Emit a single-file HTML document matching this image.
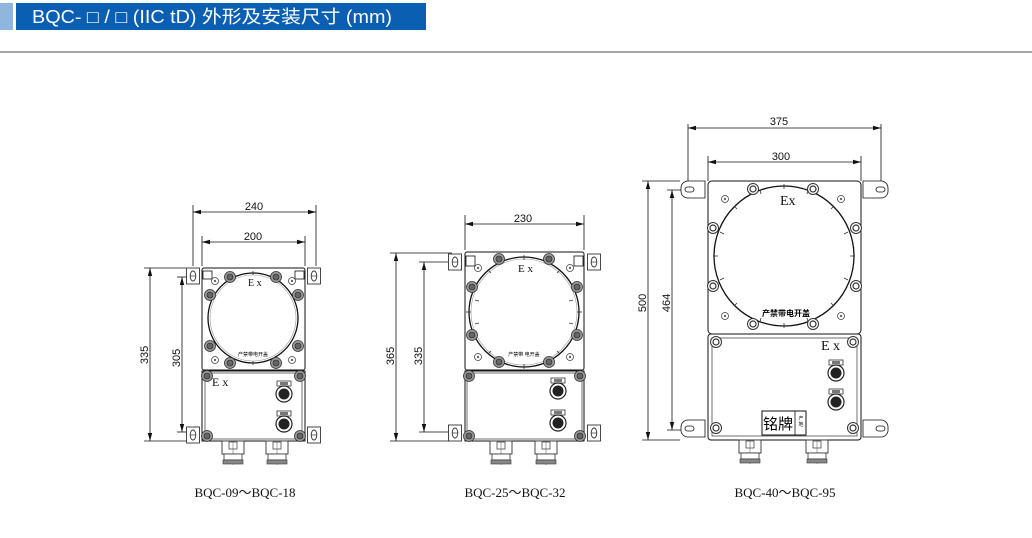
<!DOCTYPE html>
<html><head><meta charset="utf-8"><style>
html,body{margin:0;padding:0;background:#fff;width:1032px;height:538px;overflow:hidden}
svg{display:block}
.t{font-family:"Liberation Sans",sans-serif;font-size:11px;fill:#111}
.s{font-family:"Liberation Serif",serif;fill:#111}
.c{font-family:"Liberation Sans","Noto Sans CJK SC",sans-serif}
</style></head><body>
<svg width="1032" height="538" viewBox="0 0 1032 538" xmlns="http://www.w3.org/2000/svg">
<defs>
<marker id="a" markerWidth="8" markerHeight="6" refX="8" refY="3" orient="auto-start-reverse" markerUnits="userSpaceOnUse"><path d="M0,0.8 L8,3 L0,5.2z" fill="#111"/></marker>
<g id="bolt"><circle r="5.5" fill="#999" stroke="#333" stroke-width="0.8"/><circle r="3" fill="#666" stroke="#222" stroke-width="0.6"/></g>
<g id="bolt2"><circle r="5.5" fill="#fff" stroke="#333" stroke-width="1"/><circle r="3" fill="#fff" stroke="#333" stroke-width="1.2"/></g>
<g id="scr"><circle r="3.5" fill="#fff" stroke="#444" stroke-width="0.8"/><circle r="1.2" fill="#666"/></g>
<g id="lug"><rect x="-6.5" y="-8" width="13" height="16" fill="#fff" stroke="#333" stroke-width="0.9"/><ellipse rx="2.8" ry="5" fill="none" stroke="#333" stroke-width="0.9"/><line x1="-2.8" y1="0" x2="2.8" y2="0" stroke="#333" stroke-width="0.7"/></g>
<g id="btn"><rect x="-7" y="-13" width="14" height="5" fill="#fff" stroke="#333" stroke-width="0.8"/><rect x="-4" y="-12" width="8" height="3" fill="#777"/><circle r="8" fill="#fff" stroke="#222" stroke-width="1.2"/><circle r="5.5" fill="#222"/></g>
<g id="gland"><rect x="-11" y="0" width="22" height="13" fill="#fff" stroke="#333" stroke-width="0.9"/><rect x="-4" y="1" width="8" height="7" fill="#fff" stroke="#333" stroke-width="0.7"/><line x1="0" y1="0" x2="0" y2="24" stroke="#555" stroke-width="0.5"/><rect x="-9" y="13" width="18" height="6" fill="#fff" stroke="#333" stroke-width="0.8"/><rect x="-10" y="19" width="20" height="4" fill="#888" stroke="#333" stroke-width="0.6"/></g>
</defs>

<rect x="0" y="3" width="13" height="27" fill="#8fb6df"/>
<rect x="16" y="3" width="410" height="27" fill="#0b5fb3"/>
<text x="32" y="23" class="c" font-size="18" fill="#fff" textLength="360" lengthAdjust="spacingAndGlyphs">BQC- □ / □ (IIC tD) 外形及安装尺寸 (mm)</text>
<line x1="0" y1="52" x2="1032" y2="52" stroke="#888" stroke-width="1.5"/>

<g stroke="#111" stroke-width="0.8" fill="none">
<line x1="193" y1="205" x2="193" y2="266"/><line x1="316" y1="205" x2="316" y2="266"/>
<line x1="193" y1="212" x2="316" y2="212" marker-start="url(#a)" marker-end="url(#a)"/>
<line x1="202" y1="236" x2="202" y2="266"/><line x1="305" y1="236" x2="305" y2="266"/>
<line x1="202" y1="242" x2="305" y2="242" marker-start="url(#a)" marker-end="url(#a)"/>
<line x1="144" y1="268" x2="186" y2="268"/><line x1="144" y1="441" x2="186" y2="441"/>
<line x1="150" y1="268" x2="150" y2="441" marker-start="url(#a)" marker-end="url(#a)"/>
<line x1="177" y1="277" x2="190" y2="277"/><line x1="177" y1="432" x2="190" y2="432"/>
<line x1="182" y1="277" x2="182" y2="432" marker-start="url(#a)" marker-end="url(#a)"/>
<rect x="202" y="268" width="103" height="102" rx="2" stroke-width="1"/>
<rect x="202" y="371" width="103" height="70" stroke-width="1"/>
<rect x="205" y="373" width="97" height="66" stroke-width="0.6"/>
<circle cx="253" cy="318" r="45" stroke-width="1.3"/>
<circle cx="253" cy="318" r="43" stroke="#999" stroke-width="0.6"/>
<rect x="203" y="271" width="9" height="8"/><rect x="295" y="271" width="9" height="8"/>

<line x1="465" y1="215" x2="465" y2="250"/><line x1="584" y1="215" x2="584" y2="250"/>
<line x1="465" y1="224" x2="584" y2="224" marker-start="url(#a)" marker-end="url(#a)"/>
<line x1="390" y1="253" x2="452" y2="253"/><line x1="390" y1="441" x2="450" y2="441"/>
<line x1="396" y1="253" x2="396" y2="441" marker-start="url(#a)" marker-end="url(#a)"/>
<line x1="419" y1="262" x2="450" y2="262"/><line x1="419" y1="432" x2="450" y2="432"/>
<line x1="424" y1="262" x2="424" y2="432" marker-start="url(#a)" marker-end="url(#a)"/>
<rect x="465" y="252" width="119" height="118" rx="2" stroke-width="1"/>
<rect x="465" y="371" width="119" height="70" stroke-width="1"/>
<rect x="467" y="373" width="115" height="66" stroke-width="0.6"/>
<circle cx="524" cy="312" r="55" stroke-width="1.3"/>
<circle cx="524" cy="312" r="53" stroke="#999" stroke-width="0.6"/>
<rect x="466" y="256" width="9" height="10"/><rect x="574" y="256" width="9" height="10"/>

<line x1="688" y1="124" x2="688" y2="182"/><line x1="881" y1="124" x2="881" y2="182"/>
<line x1="688" y1="128" x2="881" y2="128" marker-start="url(#a)" marker-end="url(#a)"/>
<line x1="708" y1="156" x2="708" y2="181"/><line x1="861" y1="156" x2="861" y2="181"/>
<line x1="708" y1="162" x2="861" y2="162" marker-start="url(#a)" marker-end="url(#a)"/>
<line x1="642" y1="181" x2="680" y2="181"/><line x1="642" y1="440" x2="680" y2="440"/>
<line x1="648" y1="181" x2="648" y2="440" marker-start="url(#a)" marker-end="url(#a)"/>
<line x1="667" y1="190" x2="684" y2="190"/><line x1="667" y1="430" x2="684" y2="430"/>
<line x1="672" y1="190" x2="672" y2="430" marker-start="url(#a)" marker-end="url(#a)"/>
<rect x="708" y="181" width="153" height="153" rx="4" stroke-width="1"/>
<rect x="708" y="334" width="153" height="106" rx="3" stroke-width="1"/>
<rect x="712" y="338" width="145" height="98" stroke-width="0.6"/>
<circle cx="784" cy="256" r="70" stroke-width="1.3"/>
<path d="M705,181 H688 A7,7 0 0 0 681,188 V192 A7,7 0 0 0 688,198 H705 Z" fill="#fff"/>
<rect x="685" y="187" width="9" height="5" rx="2.5"/>
<path d="M863,181 H881 A7,7 0 0 1 888,188 V192 A7,7 0 0 1 881,198 H863 Z" fill="#fff"/>
<rect x="876" y="187" width="9" height="5" rx="2.5"/>
<path d="M705,420 H688 A7,7 0 0 0 681,427 V431 A7,7 0 0 0 688,437 H705 Z" fill="#fff"/>
<rect x="685" y="426" width="9" height="5" rx="2.5"/>
<path d="M863,420 H881 A7,7 0 0 1 888,427 V431 A7,7 0 0 1 881,437 H863 Z" fill="#fff"/>
<rect x="876" y="426" width="9" height="5" rx="2.5"/>
<rect x="762" y="411" width="44" height="24" stroke-width="1"/>
<line x1="795" y1="411" x2="795" y2="435"/>
</g>

<g stroke="#333" stroke-width="0.8">
<line x1="253" y1="271" x2="253" y2="275"/><line x1="253" y1="361" x2="253" y2="365"/>
<line x1="466" y1="312" x2="471" y2="312"/><line x1="577" y1="312" x2="582" y2="312"/>
<line x1="524" y1="255" x2="524" y2="260"/><line x1="524" y1="364" x2="524" y2="369"/>
<line x1="713" y1="256" x2="718" y2="256"/><line x1="850" y1="256" x2="855" y2="256"/>
<line x1="784" y1="184" x2="784" y2="189"/><line x1="784" y1="323" x2="784" y2="328"/>
<line x1="734" y1="206" x2="737" y2="209"/><line x1="834" y1="206" x2="831" y2="209"/>
<line x1="734" y1="306" x2="737" y2="303"/><line x1="834" y1="306" x2="831" y2="303"/>
<line x1="720" y1="232" x2="724" y2="234"/><line x1="848" y1="232" x2="844" y2="234"/>
<line x1="720" y1="280" x2="724" y2="278"/><line x1="848" y1="280" x2="844" y2="278"/>
<line x1="760" y1="190" x2="761" y2="194"/><line x1="808" y1="190" x2="807" y2="194"/>
<line x1="760" y1="322" x2="761" y2="318"/><line x1="808" y1="322" x2="807" y2="318"/>
<line x1="488" y1="270" x2="491" y2="273"/><line x1="560" y1="270" x2="557" y2="273"/>
<line x1="488" y1="354" x2="491" y2="351"/><line x1="560" y1="354" x2="557" y2="351"/>
<line x1="475" y1="300" x2="479" y2="301"/><line x1="573" y1="300" x2="569" y2="301"/>
<line x1="475" y1="324" x2="479" y2="323"/><line x1="573" y1="324" x2="569" y2="323"/>
</g>

<use href="#bolt" x="230" y="277"/><use href="#bolt" x="276" y="277"/>
<use href="#bolt" x="210" y="295"/><use href="#bolt" x="298" y="295"/>
<use href="#bolt" x="210" y="346"/><use href="#bolt" x="298" y="346"/>
<use href="#bolt" x="230" y="363"/><use href="#bolt" x="276" y="363"/>
<use href="#scr" x="215" y="281"/><use href="#scr" x="292" y="281"/>
<use href="#scr" x="215" y="360"/><use href="#scr" x="292" y="360"/>
<use href="#bolt" x="207" y="376"/><use href="#bolt" x="300" y="376"/>
<use href="#bolt" x="207" y="436"/><use href="#bolt" x="300" y="436"/>

<use href="#bolt" x="499" y="259"/><use href="#bolt" x="549" y="259"/>
<use href="#bolt" x="472" y="287"/><use href="#bolt" x="577" y="287"/>
<use href="#bolt" x="472" y="335"/><use href="#bolt" x="577" y="335"/>
<use href="#bolt" x="499" y="362"/><use href="#bolt" x="549" y="362"/>
<use href="#scr" x="478" y="268"/><use href="#scr" x="570" y="268"/>
<use href="#scr" x="478" y="357"/><use href="#scr" x="570" y="357"/>
<use href="#bolt" x="469" y="376"/><use href="#bolt" x="580" y="376"/>
<use href="#bolt" x="469" y="436"/><use href="#bolt" x="580" y="436"/>

<use href="#bolt2" x="753" y="189"/><use href="#bolt2" x="813" y="189"/>
<use href="#bolt2" x="713" y="228"/><use href="#bolt2" x="856" y="228"/>
<use href="#bolt2" x="713" y="286"/><use href="#bolt2" x="856" y="286"/>
<use href="#bolt2" x="753" y="324"/><use href="#bolt2" x="813" y="324"/>
<use href="#scr" x="725" y="199"/><use href="#scr" x="841" y="199"/>
<use href="#scr" x="725" y="316"/><use href="#scr" x="841" y="316"/>
<use href="#bolt2" x="716" y="342"/><use href="#bolt2" x="853" y="342"/>
<use href="#bolt2" x="716" y="428"/><use href="#bolt2" x="853" y="428"/>

<use href="#lug" x="193" y="276"/><use href="#lug" x="314" y="276"/>
<use href="#lug" x="193" y="435"/><use href="#lug" x="314" y="435"/>
<use href="#lug" x="455" y="262"/><use href="#lug" x="594" y="262"/>
<use href="#lug" x="455" y="433"/><use href="#lug" x="594" y="433"/>

<use href="#btn" x="284" y="394"/><use href="#btn" x="284" y="424"/>
<use href="#btn" x="558" y="391"/><use href="#btn" x="558" y="423"/>
<use href="#btn" x="836" y="373"/><use href="#btn" x="836" y="402"/>

<use href="#gland" x="233" y="441"/><use href="#gland" x="277" y="441"/>
<use href="#gland" x="501" y="441"/><use href="#gland" x="546" y="441"/>
<use href="#gland" x="750" y="440"/><use href="#gland" x="817" y="440"/>

<g class="t" text-anchor="middle">
<text x="254" y="210">240</text><text x="253" y="240">200</text>
<text x="523" y="222">230</text>
<text x="779" y="125">375</text><text x="781" y="160">300</text>
<text transform="translate(148,355) rotate(-90)">335</text>
<text transform="translate(180,358) rotate(-90)">305</text>
<text transform="translate(394,356) rotate(-90)">365</text>
<text transform="translate(422,356) rotate(-90)">335</text>
<text transform="translate(646,303) rotate(-90)">500</text>
<text transform="translate(670,303) rotate(-90)">464</text>
</g>
<g class="s">
<text x="248" y="286" font-size="10">E x</text>
<text x="212" y="386" font-size="12">E x</text>
<text x="518" y="272" font-size="11">E x</text>
<text x="780" y="205" font-size="14">Ex</text>
<text x="821" y="350" font-size="14">E x</text>
</g>
<text x="253" y="356" class="c" font-size="5" text-anchor="middle">产禁带电开盖</text>
<text x="524" y="356" class="c" font-size="5" text-anchor="middle">产禁带 电开盖</text>
<text x="786" y="316" class="c" font-size="8" text-anchor="middle" font-weight="bold">产禁带电开盖</text>
<text x="778" y="429" class="c" font-size="15" text-anchor="middle">铭牌</text>
<text x="801" y="420" class="c" font-size="5" text-anchor="middle">产</text>
<text x="801" y="426" class="c" font-size="5" text-anchor="middle">地</text>
<g class="s" font-size="13" text-anchor="middle">
<text x="245" y="497">BQC-09～BQC-18</text>
<text x="515" y="497">BQC-25～BQC-32</text>
<text x="785" y="497">BQC-40～BQC-95</text>
</g>
</svg>
</body></html>
